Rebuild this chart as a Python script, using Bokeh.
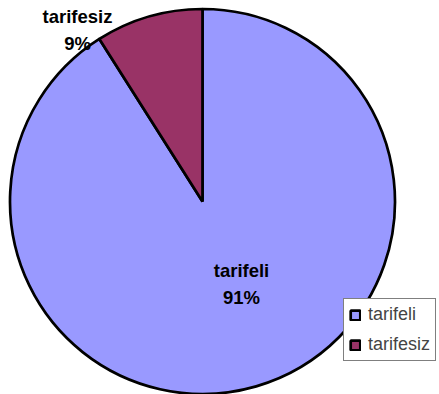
import math
from bokeh.plotting import figure
from bokeh.models import Range1d, Legend, LegendItem
from bokeh.core.properties import value
from bokeh.embed import file_html
from bokeh.resources import INLINE

# data
categories = ["tarifeli", "tarifesiz"]
values = [91, 9]
colors = ["#9999FF", "#993366"]
pct_labels = ["91%", "9%"]

W, H = 439, 394
p = figure(width=W, height=H, x_range=Range1d(0, W), y_range=Range1d(0, H),
           output_backend="svg", toolbar_location=None, min_border=0,
           background_fill_color="white", border_fill_color="white")
p.axis.visible = False
p.grid.visible = False
p.outline_line_color = None

cx, cy, r = 202, 193, 192.5
total = sum(values)
# tarifesiz starts at 12 o'clock going counter-clockwise; tarifeli fills the rest
ang_small = values[1] / total * 2 * math.pi
start = [math.pi / 2 + ang_small, math.pi / 2]
end = [math.pi / 2 + 2 * math.pi, math.pi / 2 + ang_small]

renderers = []
for i in range(len(categories)):
    rr = p.wedge(x=cx, y=cy, radius=r, start_angle=start[i], end_angle=end[i],
                 fill_color=colors[i], line_color="black", line_width=2.7)
    renderers.append(rr)

# data labels
lab_x = [241, 77]
lab_y1 = [124, 378]
lab_y2 = [97, 351]
p.text(x=lab_x, y=lab_y1, text=categories, text_font=value("Liberation Sans"),
       text_font_style="bold", text_font_size="18.5px", text_align="center",
       text_baseline="middle", text_color="black")
p.text(x=lab_x, y=lab_y2, text=pct_labels, text_font=value("Liberation Sans"),
       text_font_style="bold", text_font_size="18.5px", text_align="center",
       text_baseline="middle", text_color="black")

legend = Legend(items=[LegendItem(label=categories[i], renderers=[renderers[i]]) for i in range(2)],
                location=(343, 33), margin=0, padding=5, spacing=9,
                glyph_width=12, glyph_height=12, label_height=20, label_standoff=7,
                label_text_font="Liberation Sans", label_text_font_size="18px",
                border_line_color="black", border_line_width=1,
                background_fill_color="white", background_fill_alpha=1.0)
p.add_layout(legend, "center")

open("out.html", "w").write(file_html(p, INLINE))
